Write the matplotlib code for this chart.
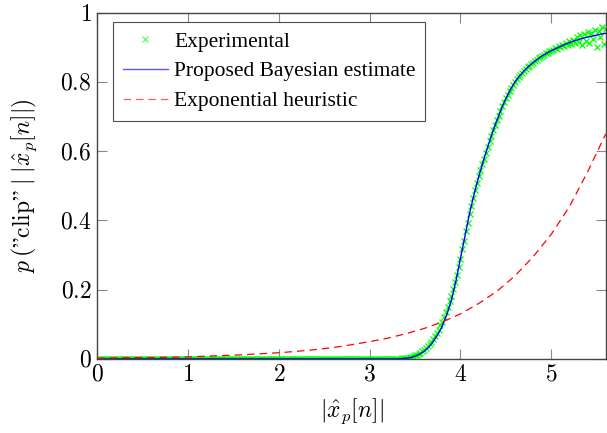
import numpy as np
import matplotlib
matplotlib.use("Agg")
import matplotlib.pyplot as plt

plt.rcParams['mathtext.fontset'] = 'cm'
plt.rcParams['font.family'] = 'serif'
plt.rcParams['font.serif'] = ['Liberation Serif', 'DejaVu Serif']

# ---------------- data ----------------
# Experimental (0.02 grid)
exp_x = np.round(np.arange(0, 5.601, 0.02), 2)
exp_low = [0.0] * 165  # x = 0 ... 3.28
exp_high = [
    0.000, 0.001, 0.001, 0.002, 0.002, 0.003, 0.004, 0.005, 0.006, 0.008,
    0.010, 0.012, 0.015, 0.018, 0.022, 0.027, 0.031, 0.037, 0.043, 0.050,
    0.057, 0.066, 0.075, 0.085, 0.097, 0.108, 0.120, 0.135, 0.150, 0.166,
    0.183, 0.202, 0.222, 0.243, 0.266, 0.290, 0.316, 0.341, 0.368, 0.393,
    0.419, 0.443, 0.466, 0.487, 0.507, 0.527, 0.545, 0.562, 0.578, 0.596,
    0.613, 0.628, 0.645, 0.660, 0.674, 0.690, 0.702, 0.716, 0.729, 0.741,
    0.753, 0.762, 0.774, 0.782, 0.792, 0.800, 0.808, 0.813, 0.821, 0.825,
    0.832, 0.837, 0.843, 0.846, 0.852, 0.855, 0.861, 0.863, 0.869, 0.871,
    0.876, 0.878, 0.883, 0.884, 0.889, 0.890, 0.893, 0.897, 0.896, 0.903,
    0.901, 0.907, 0.903, 0.912, 0.906, 0.918, 0.910, 0.922, 0.912, 0.930,
    0.915, 0.935, 0.905, 0.938, 0.918, 0.945, 0.912, 0.942, 0.925, 0.950,
    0.902, 0.948, 0.930, 0.957, 0.910, 0.952,
]
exp_y = exp_low + exp_high

# Proposed Bayesian estimate
bayes_x = [0.0, 1.0, 2.0, 3.0, 3.30, 3.35, 3.40, 3.45, 3.50, 3.55, 3.60, 3.65,
           3.70, 3.75, 3.80, 3.85, 3.90, 3.95, 4.00, 4.05, 4.10, 4.15, 4.20,
           4.25, 4.30, 4.35, 4.40, 4.45, 4.50, 4.55, 4.60, 4.65, 4.70, 4.75,
           4.80, 4.85, 4.90, 4.95, 5.00, 5.05, 5.10, 5.15, 5.20, 5.25, 5.30,
           5.35, 5.40, 5.45, 5.50, 5.55, 5.60]
bayes_y = [0.0, 0.0, 0.0, 0.0, 0.000, 0.001, 0.002, 0.004, 0.008, 0.014, 0.022,
           0.034, 0.050, 0.070, 0.095, 0.128, 0.170, 0.225, 0.290, 0.355,
           0.420, 0.475, 0.525, 0.570, 0.612, 0.652, 0.688, 0.722, 0.752,
           0.778, 0.800, 0.817, 0.832, 0.845, 0.856, 0.866, 0.875, 0.883,
           0.890, 0.896, 0.902, 0.908, 0.913, 0.918, 0.922, 0.926, 0.929,
           0.932, 0.935, 0.938, 0.940]

# Exponential heuristic
heur_x = [0.0, 0.2, 0.4, 0.6, 0.8, 1.0, 1.2, 1.4, 1.6, 1.8, 2.0, 2.2, 2.4, 2.6,
          2.8, 3.0, 3.2, 3.4, 3.6, 3.8, 4.0, 4.2, 4.4, 4.6, 4.8, 5.0, 5.2,
          5.4, 5.6]
heur_y = [0.002, 0.003, 0.004, 0.004, 0.005, 0.006, 0.008, 0.010, 0.012, 0.015,
          0.018, 0.022, 0.027, 0.033, 0.041, 0.050, 0.060, 0.073, 0.088,
          0.107, 0.130, 0.160, 0.195, 0.240, 0.295, 0.360, 0.440, 0.540, 0.650]

x_ticks = [0, 1, 2, 3, 4, 5]
x_ticklabels = ['$0$', '$1$', '$2$', '$3$', '$4$', '$5$']
y_ticks = [0, 0.2, 0.4, 0.6, 0.8, 1.0]
y_ticklabels = ['$0$', '$0.2$', '$0.4$', '$0.6$', '$0.8$', '$1$']

# ---------------- plot ----------------
fig = plt.figure(figsize=(6.07, 4.33), dpi=100)
ax = fig.add_axes([0.160, 0.171, 0.838, 0.800])

ax.plot(exp_x, exp_y, linestyle='none', marker='x', color='#00ff00',
        markersize=5, markeredgewidth=0.9, label='Experimental', zorder=2)
ax.plot(bayes_x, bayes_y, color='#0000ff', linewidth=1.0,
        label='Proposed Bayesian estimate', zorder=3)
ax.plot(heur_x, heur_y, color='#ff0000', linewidth=0.9, dashes=(6, 4),
        label='Exponential heuristic', zorder=3)

ax.set_xlim(0, 5.6)
ax.set_ylim(0, 1)
ax.set_xticks(x_ticks)
ax.set_xticklabels(x_ticklabels)
ax.set_yticks(y_ticks)
ax.set_yticklabels(y_ticklabels)
ax.tick_params(direction='in', length=7, width=0.8, color='#888888',
               labelsize=17, top=True, right=True, pad=4)
for s in ax.spines.values():
    s.set_color('#444444')
    s.set_linewidth(1.0)

ax.set_xlabel(r'$|\hat{x}_p[n]|$', fontsize=17, labelpad=8)
ax.set_ylabel(r'$p\,(\mathrm{”clip”}\;|\;|\hat{x}_p[n]|)$', fontsize=17,
              labelpad=15)

leg = ax.legend(loc='upper left', bbox_to_anchor=(0.031, 0.973), fontsize=15.5,
                frameon=True, fancybox=False, edgecolor='#222222',
                handlelength=2.1, handletextpad=0.3, borderpad=0.45,
                labelspacing=0.45, borderaxespad=0, markerscale=0.8)
leg.get_frame().set_linewidth(0.8)
for h in leg.get_lines():
    h.set_alpha(0.65)

fig.savefig('out.png', dpi=100)
